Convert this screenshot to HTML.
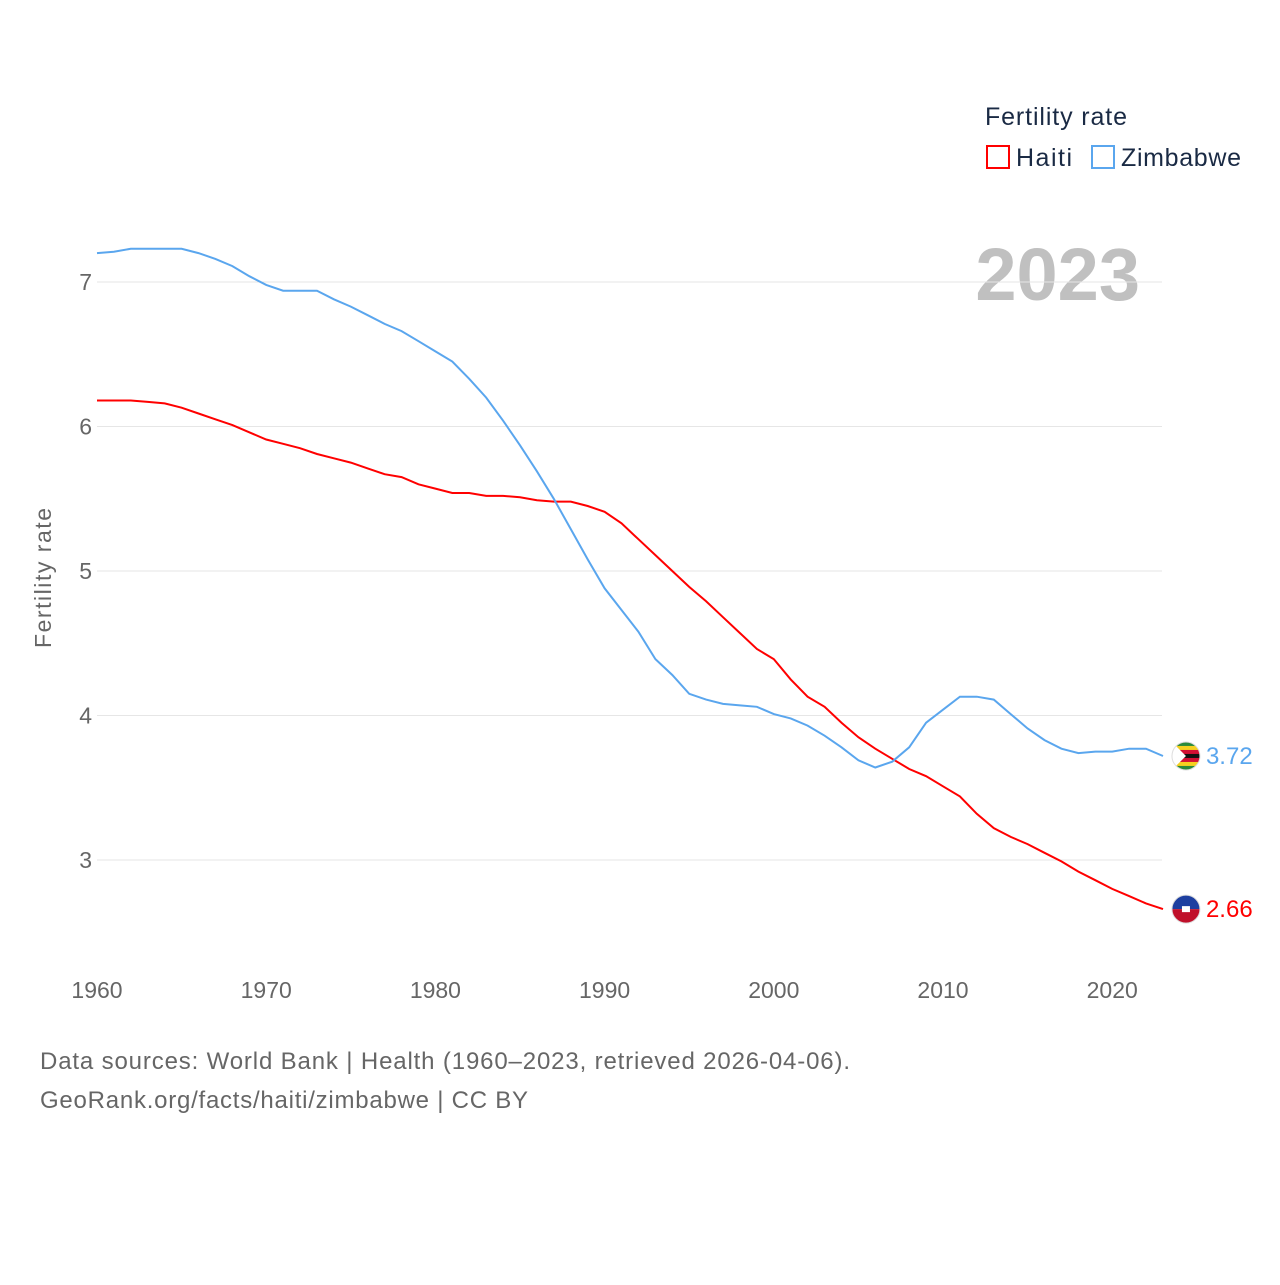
<!DOCTYPE html>
<html><head><meta charset="utf-8"><style>
body{margin:0;background:#fff;font-family:"Liberation Sans",sans-serif}
svg text{font-family:"Liberation Sans",sans-serif}
</style></head><body>
<svg width="1280" height="1280" id="c">
<defs id="defs"></defs>
<text x="985" y="125" font-size="25" fill="#1a2a44" textLength="142">Fertility rate</text>
<g><rect x="987" y="146" width="22" height="22" fill="none" stroke="#f00" stroke-width="2"/><text x="1016" y="166" font-size="25" fill="#1a2a44" textLength="56">Haiti</text></g>
<g><rect x="1092" y="146" width="22" height="22" fill="none" stroke="#5aa6ee" stroke-width="2"/><text x="1121" y="166" font-size="25" fill="#1a2a44" textLength="120">Zimbabwe</text></g>
<text x="1140" y="300" font-size="74" font-weight="bold" fill="#c0c0c0" text-anchor="end">2023</text>
<text transform="translate(51,578) rotate(-90)" font-size="23" fill="#666" text-anchor="middle" textLength="140">Fertility rate</text>
<g id="grid"></g><g id="series"></g>
<text x="40" y="1069" font-size="24" fill="#666" textLength="810">Data sources: World Bank | Health (1960–2023, retrieved 2026-04-06).</text>
<text x="40" y="1108" font-size="24" fill="#666" textLength="488">GeoRank.org/facts/haiti/zimbabwe | CC BY</text>
</svg>
<script>
const years=[];for(let y=1960;y<=2023;y++)years.push(y);
const haiti=[6.18,6.18,6.18,6.17,6.16,6.13,6.09,6.05,6.01,5.96,5.91,5.88,5.85,5.81,5.78,5.75,5.71,5.67,5.65,5.60,5.57,5.54,5.54,5.52,5.52,5.51,5.49,5.48,5.48,5.45,5.41,5.33,5.22,5.11,5.0,4.89,4.79,4.68,4.57,4.46,4.39,4.25,4.13,4.06,3.95,3.85,3.77,3.70,3.63,3.58,3.51,3.44,3.32,3.22,3.16,3.11,3.05,2.99,2.92,2.86,2.80,2.75,2.70,2.66];
const zimbabwe=[7.2,7.21,7.23,7.23,7.23,7.23,7.2,7.16,7.11,7.04,6.98,6.94,6.94,6.94,6.88,6.83,6.77,6.71,6.66,6.59,6.52,6.45,6.33,6.2,6.04,5.87,5.69,5.5,5.29,5.08,4.88,4.73,4.58,4.39,4.28,4.15,4.11,4.08,4.07,4.06,4.01,3.98,3.93,3.86,3.78,3.69,3.64,3.68,3.78,3.95,4.04,4.13,4.13,4.11,4.01,3.91,3.83,3.77,3.74,3.75,3.75,3.77,3.77,3.72];
const yTicks=[3,4,5,6,7];
const xTicks=[1960,1970,1980,1990,2000,2010,2020];
const X=y=>97+(y-1960)*16.92, Y=v=>282+(7-v)*144.5;
const NS='http://www.w3.org/2000/svg';
function mk(t,a,p){const e=document.createElementNS(NS,t);for(const k in a)e.setAttribute(k,a[k]);p.appendChild(e);return e;}
const g=document.getElementById('grid');
const defs=document.getElementById('defs');
yTicks.forEach(v=>{
 const l=mk('line',{x1:97,x2:1162,y1:Y(v),y2:Y(v),stroke:'#e6e6e6','stroke-width':1},g);
 
 
 const t=mk('text',{x:92,y:Y(v)+8,'font-size':23,fill:'#666','text-anchor':'end'},g);t.textContent=v;
 
 
});
xTicks.forEach(v=>{
 const t=mk('text',{x:X(v),y:998,'font-size':23,fill:'#666','text-anchor':'middle'},g);t.textContent=v;
 
 
});
const s=document.getElementById('series');
[[haiti,'#f00','haiti'],[zimbabwe,'#5aa6ee','zimbabwe']].forEach(([d,c,n])=>{
 const p=mk('path',{d:d.map((v,i)=>(i?'L':'M')+X(years[i]).toFixed(1)+','+Y(v).toFixed(1)).join(''),fill:'none',stroke:c,'stroke-width':2},s);
 
 
 const last=d[d.length-1];
 const cx=X(2023)+23, cy=Y(last);
 const cp=mk('clipPath',{id:'clip-'+n},defs);
 mk('circle',{cx:cx,cy:cy,r:14},cp);
 const fg=mk('g',{'clip-path':'url(#clip-'+n+')'},s);
 
 
 if(n=='haiti'){
  mk('rect',{x:cx-14,y:cy-14,width:28,height:14,fill:'#1d3fa0'},fg);
  mk('rect',{x:cx-14,y:cy,width:28,height:14,fill:'#c0102a'},fg);
  mk('rect',{x:cx-4,y:cy-3,width:8,height:6,fill:'#fff'},fg);
 } else {
  const cols=['#2a8a3a','#f5d020','#d21034','#111','#d21034','#f5d020','#2a8a3a'];
  cols.forEach((col,i)=>mk('rect',{x:cx-14,y:cy-14+i*4,width:28,height:4.1,fill:col},fg));
  mk('path',{d:`M${cx-14},${cy-14}L${cx},${cy}L${cx-14},${cy+14}Z`,fill:'#fff'},fg);
 }
 mk('circle',{cx:cx,cy:cy,r:14,fill:'none',stroke:'#ddd'},s);
 const t=mk('text',{x:cx+20,y:cy+8,'font-size':24,fill:c},s);t.textContent=last.toFixed(2);
 
 
});
</script>
</body></html>
